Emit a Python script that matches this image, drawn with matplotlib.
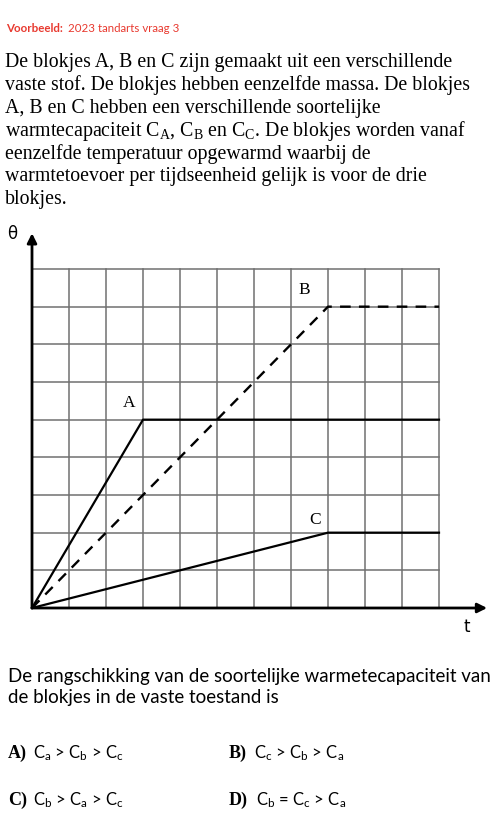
import matplotlib
matplotlib.use("Agg")
import matplotlib.pyplot as plt

plt.rcParams['mathtext.fontset'] = 'custom'
plt.rcParams['mathtext.rm'] = 'Liberation Serif'
plt.rcParams['mathtext.sf'] = 'Lato'

SERIF = 'Liberation Serif'
SANS = 'Lato'

# chart data: temperature (theta) against time t, in grid units
t_A = [0, 3, 11]
theta_A = [0, 5, 5]
t_B = [0, 8, 11]
theta_B = [0, 8, 8]
t_C = [0, 8, 11]
theta_C = [0, 2, 2]
curve_labels = ['A', 'B', 'C']
label_pos = [(2.62, 5.46), (7.35, 8.46), (7.65, 2.36)]
n_cols, n_rows = 11, 9

header_bold = 'Voorbeeld:'
header_rest = '2023 tandarts vraag 3'
body_lines = [
    'De blokjes A, B en C zijn gemaakt uit een verschillende',
    'vaste stof. De blokjes hebben eenzelfde massa. De blokjes',
    'A, B en C hebben een verschillende soortelijke',
    r'warmtecapaciteit $\mathrm{C_A}$, $\mathrm{C_B}$ en $\mathrm{C_C}$. De blokjes worden vanaf',
    'eenzelfde temperatuur opgewarmd waarbij de',
    'warmtetoevoer per tijdseenheid gelijk is voor de drie',
    'blokjes.',
]
question_lines = [
    'De rangschikking van de soortelijke warmetecapaciteit van',
    'de blokjes in de vaste toestand is',
]
option_keys = ['A)', 'B)', 'C)', 'D)']
option_texts = [
    r'$\mathsf{C_a}$ > $\mathsf{C_b}$ > $\mathsf{C_c}$',
    r'$\mathsf{C_c}$ > $\mathsf{C_b}$ > $\mathsf{C_a}$',
    r'$\mathsf{C_b}$ > $\mathsf{C_a}$ > $\mathsf{C_c}$',
    r'$\mathsf{C_b}$ = $\mathsf{C_c}$ > $\mathsf{C_a}$',
]

W, H = 500, 828
fig = plt.figure(figsize=(W / 100, H / 100), dpi=100)


def px(x, y):
    return x / W, 1 - y / H


# header
fig.text(*px(6, 32), header_bold, color='#e8392f', fontsize=8.3, fontweight='bold',
         family=SANS, va='baseline')
fig.text(*px(68, 32), header_rest, color='#e8392f', fontsize=8.3,
         family=SANS, va='baseline')

# body text
for i, line in enumerate(body_lines):
    fig.text(*px(5, 67 + 22.9 * i), line, fontsize=14.3, family=SERIF, va='baseline')

# chart
ax = fig.add_axes([32 / W, 1 - 609 / H, 407 / W, 339 / H])
ax.set_xlim(0, n_cols)
ax.set_ylim(0, n_rows)
ax.axis('off')
for i in range(1, n_rows + 1):
    ax.plot([0, n_cols], [i, i], color='#707070', lw=1.1, clip_on=False, zorder=1)
for j in range(1, n_cols + 1):
    ax.plot([j, j], [0, n_rows], color='#707070', lw=1.1, clip_on=False, zorder=1)

ax.annotate('', xy=(0, 9.95), xytext=(0, 0),
            arrowprops=dict(arrowstyle='-|>', lw=2.0, color='black',
                            mutation_scale=14, shrinkA=0, shrinkB=0),
            annotation_clip=False, zorder=4)
ax.annotate('', xy=(12.3, 0), xytext=(0, 0),
            arrowprops=dict(arrowstyle='-|>', lw=2.0, color='black',
                            mutation_scale=14, shrinkA=0, shrinkB=0),
            annotation_clip=False, zorder=4)

ax.plot(t_A, theta_A, color='black', lw=1.6, clip_on=False, zorder=3)
ax.plot(t_B, theta_B, color='black', lw=1.7, dashes=(4.5, 3.5), clip_on=False, zorder=3)
ax.plot(t_C, theta_C, color='black', lw=1.6, clip_on=False, zorder=3)

for lab, (lx, ly) in zip(curve_labels, label_pos):
    ax.text(lx, ly, lab, fontsize=12.5, family=SERIF, ha='center', va='center', zorder=5)

fig.text(*px(12, 234), 'θ', fontsize=12, family='DejaVu Sans', ha='center', va='center')
fig.text(*px(467, 627), 't', fontsize=12, family='DejaVu Sans', ha='center', va='center')

# question
for i, line in enumerate(question_lines):
    fig.text(*px(8, 682 + 21.5 * i), line, fontsize=13.5, family=SANS, va='baseline')

key_x = [8, 229, 8, 229]
text_x = [33, 254, 33, 256]
row_y = [758, 758, 805, 805]
for k, txt, kx, tx, y in zip(option_keys, option_texts, key_x, text_x, row_y):
    fig.text(*px(kx, y), k, fontsize=13, family=SERIF, fontweight='bold', va='baseline')
    fig.text(*px(tx, y), txt, fontsize=12, family=SANS, va='baseline')

fig.savefig('out.png', dpi=100)
